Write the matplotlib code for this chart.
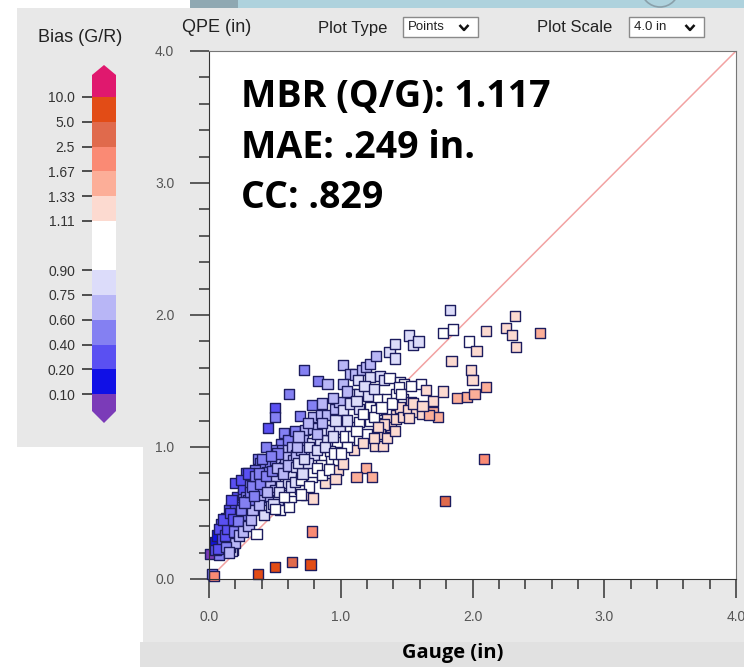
import matplotlib
matplotlib.use('Agg')
import matplotlib.pyplot as plt
from matplotlib.colors import ListedColormap, BoundaryNorm
from matplotlib.cm import ScalarMappable
from matplotlib.patches import Rectangle, Polygon, Circle

# bias bins (gauge / radar) and their colours
bias_bounds = [0.1, 0.2, 0.4, 0.6, 0.75, 0.9, 1.0, 1.11, 1.33, 1.67, 2.5, 5.0, 10.0]
bias_colors = ['#1010e6', '#5a50f2', '#8480f2', '#b8b6f6', '#dcdcfa', '#ffffff',
               '#ffffff', '#fcdad0', '#fcae98', '#fa8a74', '#e06a4c', '#e24c16']
bias_under = '#7b3bb8'
bias_over = '#e0186e'
bias_ticks = [0.1, 0.2, 0.4, 0.6, 0.75, 0.9, 1.11, 1.33, 1.67, 2.5, 5.0, 10.0]
bias_labels = ['0.10', '0.20', '0.40', '0.60', '0.75', '0.90',
               '1.11', '1.33', '1.67', '2.5', '5.0', '10.0']

stats_lines = ['MBR (Q/G): 1.117', 'MAE: .249 in.', 'CC: .829']

# gauge (x) vs QPE (y), inches
gauge_low = [0.02, 0.035, 0.01, 0.075, 0.07, 0.045, 0.08, 0.15, 0.17, 0.18, 0.17, 0.09, 0.13,
             0.17, 0.20, 0.15, 0.12, 0.10, 0.05, 0.16, 0.20, 0.20, 0.235, 0.25, 0.27, 0.235,
             0.285, 0.20, 0.26, 0.285, 0.21, 0.26, 0.26, 0.24, 0.17, 0.13, 0.11, 0.22, 0.29, 0.26,
             0.06, 0.08, 0.10, 0.12, 0.14, 0.07, 0.11, 0.16, 0.18, 0.19, 0.13, 0.15,
             0.22, 0.24, 0.28, 0.23, 0.26, 0.30, 0.32]
qpe_low = [0.04, 0.02, 0.19, 0.18, 0.27, 0.28, 0.325, 0.315, 0.26, 0.22, 0.21, 0.415, 0.46,
           0.535, 0.52, 0.52, 0.28, 0.24, 0.22, 0.24, 0.27, 0.55, 0.395, 0.41, 0.50, 0.60,
           0.67, 0.725, 0.735, 0.80, 0.62, 0.635, 0.685, 0.75, 0.60, 0.43, 0.37, 0.50, 0.55, 0.485,
           0.33, 0.38, 0.30, 0.33, 0.38, 0.23, 0.45, 0.50, 0.45, 0.36, 0.24, 0.20,
           0.44, 0.52, 0.62, 0.33, 0.36, 0.40, 0.45]

gauge_mid = [0.37, 0.39, 0.42, 0.46, 0.50, 0.45, 0.50, 0.50, 0.57, 0.55, 0.54, 0.60, 0.54, 0.60,
             0.55, 0.40, 0.44, 0.35, 0.30, 0.31, 0.36, 0.40, 0.45, 0.50, 0.41, 0.46, 0.50, 0.55,
             0.60, 0.30, 0.37, 0.335, 0.41, 0.46, 0.525, 0.59, 0.42, 0.54, 0.36, 0.33, 0.38, 0.47,
             0.61, 0.61, 0.625, 0.64, 0.62, 0.63, 0.57, 0.48, 0.43,
             0.27, 0.31, 0.33, 0.35, 0.34, 0.38, 0.39, 0.43, 0.48, 0.52, 0.56, 0.58, 0.52, 0.47,
             0.44, 0.49, 0.53, 0.57, 0.62, 0.64, 0.60, 0.50]
qpe_mid = [0.91, 0.875, 0.84, 0.89, 0.90, 1.145, 1.295, 1.23, 1.105, 1.02, 0.95, 1.05, 0.975, 0.975,
           0.90, 0.91, 0.81, 0.825, 0.80, 0.71, 0.725, 0.735, 0.75, 0.76, 0.685, 0.70, 0.67, 0.70,
           0.725, 0.60, 0.65, 0.60, 0.60, 0.62, 0.60, 0.635, 0.485, 0.52, 0.34, 0.52, 0.56, 0.55,
           1.40, 0.55, 0.62, 0.67, 0.80, 1.00, 0.85, 0.98, 1.00,
           0.58, 0.66, 0.70, 0.78, 0.63, 0.80, 0.72, 0.78, 0.82, 0.84, 0.80, 0.92, 0.95, 0.93,
           0.66, 0.57, 0.66, 0.62, 0.70, 0.90, 0.86, 0.53]

gauge_upper = [0.72, 0.83, 0.90, 0.69, 0.78, 0.65, 0.79, 0.85, 0.90, 0.955, 0.99, 0.73, 0.74,
               0.79, 0.88, 0.98, 0.69, 0.73, 0.78, 0.65, 0.70, 0.71, 0.78, 0.84, 0.90, 0.97,
               0.66, 0.74, 0.80, 0.87, 0.93, 0.98, 0.66, 0.71, 0.79, 0.94, 0.79, 0.88, 0.93,
               0.99, 0.78, 0.68, 0.75, 0.85, 0.92, 0.70, 0.86, 0.96,
               0.67, 0.72, 0.76, 0.82, 0.88, 0.95, 0.82, 0.86, 0.76, 0.70, 0.82, 0.75, 0.86,
               0.94, 0.68, 0.91, 0.96]
qpe_upper = [1.585, 1.50, 1.475, 1.235, 1.32, 1.12, 1.23, 1.24, 1.24, 1.29, 1.34, 1.13, 0.635,
             0.61, 0.725, 0.825, 0.685, 0.75, 0.77, 0.735, 0.75, 1.05, 1.03, 1.04, 1.05, 1.04,
             0.94, 0.95, 0.94, 0.925, 0.91, 0.90, 0.85, 0.80, 0.81, 1.37, 1.14, 1.13, 1.13,
             1.14, 0.36, 0.88, 0.88, 0.86, 0.97, 0.98, 1.33, 1.20,
             1.00, 0.91, 1.00, 0.98, 1.00, 0.95, 0.84, 0.79, 0.70, 0.64, 1.10, 1.18, 1.18,
             1.08, 1.08, 0.83, 0.76]

gauge_high = [1.02, 1.07, 1.11, 1.16, 1.19, 1.22, 1.265, 1.13, 1.22, 1.295, 1.33, 1.37, 1.45,
              1.48, 1.02, 1.08, 1.14, 1.21, 1.28, 1.35, 1.42, 1.47, 1.02, 1.07, 1.14, 1.22,
              1.27, 1.36, 1.42, 1.07, 1.14, 1.22, 1.295, 1.35, 1.38, 1.03, 1.09, 1.14, 1.26,
              1.32, 1.02, 1.19, 1.12, 1.24, 1.33, 1.37, 1.41, 1.41, 1.18, 1.25, 1.05, 1.10,
              1.20, 1.30, 1.45, 1.42,
              1.05, 1.12, 1.17, 1.25, 1.31, 1.39, 1.44, 1.12, 1.17, 1.25, 1.28, 1.35, 1.41,
              1.47, 1.46, 1.05, 1.00]
qpe_high = [1.62, 1.555, 1.55, 1.585, 1.605, 1.63, 1.69, 1.505, 1.53, 1.535, 1.51, 1.52, 1.49,
            1.48, 1.48, 1.40, 1.40, 1.39, 1.36, 1.365, 1.40, 1.365, 1.28, 1.33, 1.29, 1.30,
            1.28, 1.28, 1.24, 1.15, 1.19, 1.20, 1.18, 1.215, 1.15, 1.08, 1.08, 1.05, 1.01,
            1.01, 0.875, 0.84, 0.775, 0.775, 1.17, 1.72, 1.78, 1.67, 1.46, 1.44, 1.20, 0.98,
            1.10, 1.10, 1.30, 1.21,
            1.42, 1.35, 1.25, 1.23, 1.30, 1.33, 1.45, 1.12, 1.03, 1.07, 1.15, 1.07, 1.12,
            1.23, 1.40, 1.00, 0.95]

gauge_far = [1.52, 1.55, 1.59, 1.535, 1.61, 1.65, 1.70, 1.775, 1.51, 1.57, 1.62, 1.70, 1.74,
             1.67, 1.52, 1.55, 1.62, 1.535, 1.84, 1.88, 1.96, 2.015, 2.10, 1.99, 2.00, 1.975,
             2.03, 1.775, 1.855, 1.83, 2.10, 2.255, 2.30, 2.32, 2.33, 2.515, 2.09, 1.79]
qpe_far = [1.845, 1.77, 1.80, 1.34, 1.48, 1.43, 1.35, 1.42, 1.28, 1.265, 1.25, 1.265, 1.23,
           1.24, 1.22, 1.33, 1.31, 1.46, 1.65, 1.37, 1.38, 1.40, 1.455, 1.585, 1.51, 1.80,
           1.73, 1.865, 1.89, 2.04, 1.88, 1.90, 1.85, 1.99, 1.76, 1.865, 0.91, 0.59]

# low QPE / high bias points near the x axis
gauge_under = [0.37, 0.50, 0.63, 0.77]
qpe_under = [0.04, 0.09, 0.13, 0.11]

gauge = gauge_low + gauge_mid + gauge_upper + gauge_high + gauge_far + gauge_under
qpe = qpe_low + qpe_mid + qpe_upper + qpe_high + qpe_far + qpe_under
bias = [g / q for g, q in zip(gauge, qpe)]

W, H = 744, 667


def fx(x):
    return x / W


def fy(y):
    return 1 - y / H


cmap = ListedColormap(bias_colors)
cmap.set_under(bias_under)
cmap.set_over(bias_over)
norm = BoundaryNorm(bias_bounds, cmap.N)

label_font = ['Liberation Sans', 'DejaVu Sans']
bold_font = ['Open Sans', 'DejaVu Sans']

fig = plt.figure(figsize=(W / 100, H / 100), dpi=100)

# page background pieces (pixel coordinates)
bg = fig.add_axes([0, 0, 1, 1])
bg.set_xlim(0, W)
bg.set_ylim(H, 0)
bg.axis('off')
bg.add_patch(Rectangle((190, 0), 48, 9, color='#8fa8b2', lw=0))
bg.add_patch(Rectangle((238, 0), W - 238, 9, color='#aed2dd', lw=0))
bg.add_patch(Circle((660, -12), 19, fill=False, ec='#8aa0aa', lw=1.2))
bg.add_patch(Rectangle((17, 8), 126, 439, color='#e8e8e8', lw=0))
bg.add_patch(Rectangle((143, 8), W - 143, 634, color='#e8e8e8', lw=0))
bg.add_patch(Rectangle((140, 642), W - 140, 25, color='#e1e1e1', lw=0))

# dropdown boxes
for x0, txt in [(403, 'Points'), (629, '4.0 in')]:
    bg.add_patch(Rectangle((x0, 17), 75, 20, fc='white', ec='#8a8a8a', lw=1))
    bg.text(x0 + 5, 27.5, txt, fontsize=9.5, family=label_font, color='#222',
            va='center', ha='left')
    cx = x0 + 61
    bg.plot([cx - 4.5, cx, cx + 4.5], [25, 30, 25], color='#111', lw=1.8,
            solid_capstyle='butt')

# colorbar end caps
bg.add_patch(Polygon([(92, 97), (92, 75), (104, 65), (116, 75), (116, 97)],
                     closed=True, color=bias_over, lw=0))
bg.add_patch(Polygon([(92, 394), (92, 411), (104, 423), (116, 411), (116, 394)],
                     closed=True, color=bias_under, lw=0))

fig.text(fx(80), fy(37), 'Bias (G/R)', fontsize=13, family=label_font, color='#222',
         ha='center', va='center')
fig.text(fx(182), fy(27), 'QPE (in)', fontsize=13, family=label_font, color='#222',
         ha='left', va='center')
fig.text(fx(318), fy(28), 'Plot Type', fontsize=12, family=label_font, color='#222',
         ha='left', va='center')
fig.text(fx(537), fy(28), 'Plot Scale', fontsize=12, family=label_font, color='#222',
         ha='left', va='center')

# colorbar
cax = fig.add_axes([fx(92), fy(394), fx(24), 297 / H])
cb = fig.colorbar(ScalarMappable(norm=norm, cmap=cmap), cax=cax, spacing='uniform',
                  ticks=bias_ticks)
cb.outline.set_visible(False)
cb.ax.minorticks_off()
cb.ax.yaxis.set_ticks_position('left')
cb.ax.yaxis.set_label_position('left')
cb.ax.set_yticklabels(bias_labels, fontsize=10, family=label_font, color='#333')
cb.ax.tick_params(axis='y', length=7.2, width=1.2, color='#333', pad=5)

# main scatter
ax = fig.add_axes([fx(209), fy(579), fx(527), 528 / H])
ax.set_facecolor('white')
ax.plot([0, 4], [0, 4], color='#f2a2a2', lw=1.1, zorder=1)
ax.scatter(gauge, qpe, c=bias, cmap=cmap, norm=norm, marker='s', s=54,
           edgecolors='#1c1c5e', linewidths=1.0, zorder=2, clip_on=False)
ax.set_xlim(0, 4)
ax.set_ylim(0, 4)
ticks = [0, 1, 2, 3, 4]
tick_labels = ['0.0', '1.0', '2.0', '3.0', '4.0']
ax.set_xticks(ticks)
ax.set_yticks(ticks)
ax.set_xticks([i * 0.2 for i in range(21)], minor=True)
ax.set_yticks([i * 0.2 for i in range(21)], minor=True)
ax.set_xticklabels(tick_labels, fontsize=10, family=label_font, color='#555')
ax.set_yticklabels(tick_labels, fontsize=10, family=label_font, color='#555')
ax.tick_params(axis='both', which='major', direction='out', length=14, width=1.1,
               color='#333')
ax.tick_params(axis='both', which='minor', direction='out', length=7, width=1.1,
               color='#333')
ax.tick_params(axis='x', which='major', pad=8)
ax.tick_params(axis='y', which='major', pad=11)
for side in ['left', 'bottom']:
    ax.spines[side].set_color('#333')
for side in ['top', 'right']:
    ax.spines[side].set_color('#777')

# statistics block
for i, line in enumerate(stats_lines):
    fig.text(fx(241), fy(107 + 50.5 * i), line, fontsize=27, fontweight='bold',
             family=bold_font, color='black', ha='left', va='baseline')

fig.text(fx(453), fy(653), 'Gauge (in)', fontsize=14.5, fontweight='bold',
         family=bold_font, color='black', ha='center', va='center')

fig.savefig('out.png', dpi=100)
